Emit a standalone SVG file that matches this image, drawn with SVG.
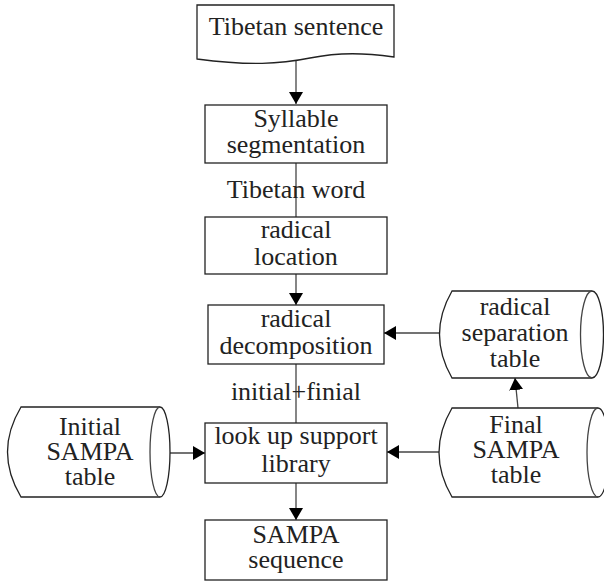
<svg xmlns="http://www.w3.org/2000/svg" width="604" height="583" viewBox="0 0 604 583">
<defs>
<marker id="ah" viewBox="0 0 12 14" refX="12" refY="7" markerWidth="12" markerHeight="14" markerUnits="userSpaceOnUse" orient="auto">
<path d="M0,0 L12,7 L0,14 Z" fill="#000"/>
</marker>
<style>
.s{fill:#fff;stroke:#222;stroke-width:1.3}
.c{fill:none;stroke:#444;stroke-width:1.3}
.t{font-family:"Liberation Serif","Times New Roman",serif;font-size:26px;fill:#222;text-anchor:middle}
</style>
</defs>
<rect width="604" height="583" fill="#fff"/>
<g id="connectors">
<line class="c" x1="296" y1="60" x2="296" y2="104" marker-end="url(#ah)"/>
<line class="c" x1="296" y1="163" x2="296" y2="217"/>
<line class="c" x1="296" y1="274" x2="296" y2="305" marker-end="url(#ah)"/>
<line class="c" x1="296" y1="364" x2="296" y2="423"/>
<line class="c" x1="296" y1="483" x2="296" y2="520" marker-end="url(#ah)"/>
<line class="c" x1="440" y1="333" x2="384" y2="333" marker-end="url(#ah)"/>
<line class="c" x1="170" y1="453" x2="205" y2="453" marker-end="url(#ah)"/>
<line class="c" x1="439" y1="452" x2="387" y2="452" marker-end="url(#ah)"/>
<line class="c" x1="518" y1="408" x2="515" y2="378" marker-end="url(#ah)"/>
</g>
<g id="n-sentence">
<path class="s" d="M197,5 H394 V57 C365,53 340,52 310,58 C280,64 250,66 197,59 Z"/>
<text class="t" x="296" y="35">Tibetan sentence</text>
</g>
<g id="n-syllable">
<rect class="s" x="205" y="105" width="182" height="58"/>
<text class="t" x="296" y="127">Syllable</text>
<text class="t" x="296" y="153">segmentation</text>
</g>
<g id="l-word">
<text class="t" x="296" y="198">Tibetan word</text>
</g>
<g id="n-location">
<rect class="s" x="205" y="217" width="182" height="57"/>
<text class="t" x="296" y="238">radical</text>
<text class="t" x="296" y="265">location</text>
</g>
<g id="n-decomp">
<rect class="s" x="208" y="305" width="176" height="59"/>
<text class="t" x="296" y="327">radical</text>
<text class="t" x="296" y="354">decomposition</text>
</g>
<g id="l-if">
<text class="t" x="296" y="400">initial+finial</text>
</g>
<g id="n-lookup">
<rect class="s" x="205" y="423" width="182" height="60"/>
<text class="t" x="296" y="444">look up support</text>
<text class="t" x="296" y="472">library</text>
</g>
<g id="n-sampa">
<rect class="s" x="205" y="520" width="182" height="60"/>
<text class="t" x="296" y="543">SAMPA</text>
<text class="t" x="296" y="568">sequence</text>
</g>
<g id="n-initial">
<path class="s" d="M21,407 H160 A10,45 0 0 1 160,497 H21 Q-6,452 21,407 Z"/>
<path class="c" d="M160,407 A10,45 0 0 0 160,497"/>
<text class="t" x="90" y="435">Initial</text>
<text class="t" x="90" y="460">SAMPA</text>
<text class="t" x="90" y="485">table</text>
</g>
<g id="n-separation">
<path class="s" d="M452,291 H592 A11.5,43.5 0 0 1 592,378 H452 Q427,334.5 452,291 Z"/>
<path class="c" d="M592,291 A11.5,43.5 0 0 0 592,378"/>
<text class="t" x="515" y="315">radical</text>
<text class="t" x="515" y="341">separation</text>
<text class="t" x="515" y="367">table</text>
</g>
<g id="n-final">
<path class="s" d="M452,408 H598 A11,44.5 0 0 1 598,497 H452 Q426,452.5 452,408 Z"/>
<path class="c" d="M598,408 A11,44.5 0 0 0 598,497"/>
<text class="t" x="516" y="433">Final</text>
<text class="t" x="516" y="458">SAMPA</text>
<text class="t" x="516" y="483">table</text>
</g>
</svg>
